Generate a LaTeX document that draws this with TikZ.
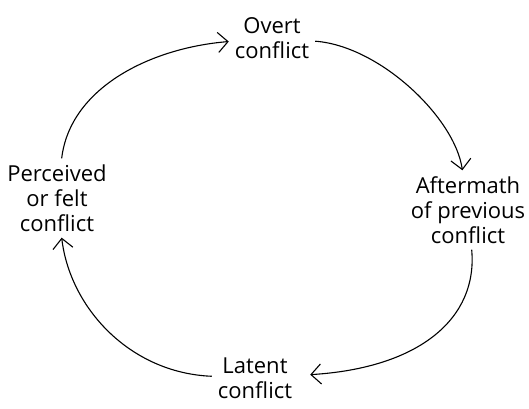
\documentclass[tikz,border=0pt]{standalone}
\usepackage{fontspec}
\setmainfont{Open Sans}
\usetikzlibrary{arrows.meta}
\begin{document}
\begin{tikzpicture}[x=1pt,y=1pt,
  lbl/.style={align=center, inner sep=6pt, font=\fontsize{22}{25}\selectfont},
  arr/.style={line width=1.1pt, -{Straight Barb[length=10pt,width=20pt,line width=1.1pt]}}]
\useasboundingbox (0,0) rectangle (529,408);
\node[lbl] (overt) at (272,370) {Overt\\conflict};
\node[lbl] (after) at (468,198) {Aftermath\\of previous\\conflict};
\node[lbl] (latent) at (255,30) {Latent\\conflict};
\node[lbl] (perc) at (57,210) {Perceived\\or felt\\conflict};
\draw[arr] (perc) .. controls (70,320) and (150,360) .. (overt);
\draw[arr] (overt) .. controls (380,362) and (455,290) .. (after);
\draw[arr, shorten >=12pt] (after) .. controls (478,90) and (420,40) .. (latent);
\draw[arr] (latent) .. controls (130,35) and (70,100) .. (perc);
\end{tikzpicture}
\end{document}
